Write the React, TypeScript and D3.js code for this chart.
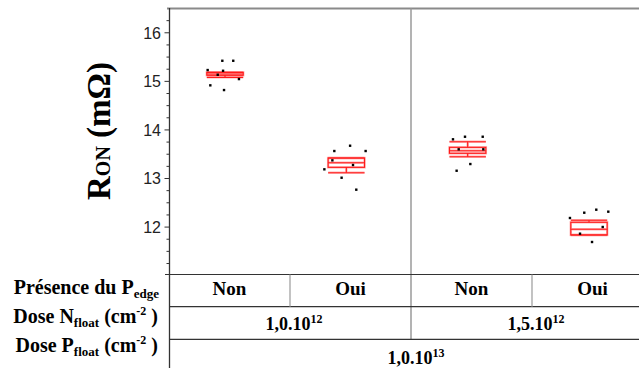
import React from 'react';
import * as d3 from 'd3';

// ---- data ----
const categories = ['Non', 'Oui', 'Non', 'Oui'];
const whiskerHigh = [15.185, 13.422, 13.757, 12.14];
const q3 = [15.185, 13.422, 13.642, 12.099];
const median = [15.15, 13.325, 13.572, 11.955];
const q1 = [15.125, 13.23, 13.519, 11.838];
const whiskerLow = [15.082, 13.119, 13.449, 11.838];

const pointValues = [
  [15.424, 15.424, 15.233, 15.218, 15.136, 15.047, 14.918, 14.821],
  [13.675, 13.566, 13.566, 13.374, 13.278, 13.189, 13.016, 12.77],
  [13.807, 13.86, 13.86, 13.601, 13.601, 13.298, 13.16],
  [12.296, 12.358, 12.317, 12.187, 12.002, 11.864, 11.693],
];
const pointJitter = [
  [-0.022, 0.068, -0.143, -0.016, -0.06, 0.115, -0.121, -0.008],
  [0.031, -0.099, 0.159, -0.115, 0.055, -0.181, -0.039, 0.082],
  [-0.121, -0.022, 0.124, -0.074, 0.129, 0.022, -0.091],
  [-0.039, 0.06, 0.159, -0.157, 0.113, -0.074, 0.025],
];

const yMajorTicks = [12, 13, 14, 15, 16];
const nFloatBases = ['1,0.10', '1,5.10'];
const nFloatExps = ['12', '12'];
const pFloatBase = '1,0.10';
const pFloatExp = '13';

const W = 639;
const H = 368;

export default function App() {
  const y = d3.scaleLinear().domain([11.03, 16.5]).range([274.2, 8.5]);
  const x = d3.scaleLinear().domain([1, 4]).range([225, 589]);
  const band = d3
    .scaleBand<string>()
    .domain(categories.map((_, i) => String(i)))
    .range([169, 653]);
  const boxHalf = 0.15;
  const minorTicks = d3
    .range(11.25, 16.5, 0.25)
    .filter((v) => Math.abs(v - Math.round(v)) > 1e-6);

  const serif = '"Liberation Serif", "Times New Roman", serif';
  const sans = '"Liberation Sans", Arial, sans-serif';
  const red = '#ff1a1a';
  const pink = '#ffb0b0';

  const axisX = 169.5;
  const row1 = 274.5;
  const row2 = 306.7;
  const row3 = 339.3;

  return (
    <svg
      width={W}
      height={H}
      style={{ position: 'absolute', left: 0, top: 0, background: '#fff' }}
    >
      <rect x={0} y={0} width={W} height={H} fill="#fff" />

      {/* frame */}
      <line x1={167} x2={W} y1={8.5} y2={8.5} stroke="#8a8a8a" strokeWidth={2} />
      <line x1={411} x2={411} y1={8.5} y2={row3} stroke="#9a9a9a" strokeWidth={1.5} />

      {/* table lines */}
      <line x1={165} x2={W} y1={row1} y2={row1} stroke="#333" strokeWidth={1.2} />
      <line x1={axisX} x2={W} y1={row2} y2={row2} stroke="#333" strokeWidth={1.2} />
      <line x1={axisX} x2={W} y1={row3} y2={row3} stroke="#333" strokeWidth={1.2} />
      {[1, 3].map((i) => (
        <line
          key={'div' + i}
          x1={band(String(i))!}
          x2={band(String(i))!}
          y1={row1}
          y2={row2}
          stroke="#9a9a9a"
          strokeWidth={1.2}
        />
      ))}

      {/* y axis */}
      <line x1={axisX} x2={axisX} y1={8} y2={H} stroke="#333" strokeWidth={1.3} />
      {minorTicks.map((t) => (
        <line
          key={'mi' + t}
          x1={axisX - 3}
          x2={axisX}
          y1={y(t)}
          y2={y(t)}
          stroke="#333"
          strokeWidth={1}
        />
      ))}
      {yMajorTicks.map((t) => (
        <g key={'ma' + t}>
          <line x1={axisX - 5} x2={axisX} y1={y(t)} y2={y(t)} stroke="#333" strokeWidth={1} />
          <text
            x={161}
            y={y(t)}
            dy="0.36em"
            textAnchor="end"
            fontFamily={sans}
            fontSize={16}
            fill="#222"
          >
            {t}
          </text>
        </g>
      ))}

      {/* y title */}
      <text
        transform={`translate(109.5,131) rotate(-90)`}
        textAnchor="middle"
        fontFamily={serif}
        fontWeight="bold"
        fill="#000"
      >
        <tspan fontSize={33}>R</tspan>
        <tspan fontSize={20}>ON</tspan>
        <tspan fontSize={33}> (mΩ)</tspan>
      </text>

      {/* boxes */}
      {categories.map((_, i) => {
        const cx = x(i + 1);
        const x0 = x(i + 1 - boxHalf);
        const x1 = x(i + 1 + boxHalf);
        const parts = (stroke: string, sw: number) => (
          <g stroke={stroke} strokeWidth={sw} fill="none">
            <rect x={x0} y={y(q3[i])} width={x1 - x0} height={y(q1[i]) - y(q3[i])} />
            <line x1={x0} x2={x1} y1={y(median[i])} y2={y(median[i])} />
            <line x1={cx} x2={cx} y1={y(whiskerHigh[i])} y2={y(q3[i])} />
            <line x1={cx} x2={cx} y1={y(q1[i])} y2={y(whiskerLow[i])} />
            <line x1={x0} x2={x1} y1={y(whiskerHigh[i])} y2={y(whiskerHigh[i])} />
            <line x1={x0} x2={x1} y1={y(whiskerLow[i])} y2={y(whiskerLow[i])} />
          </g>
        );
        return (
          <g key={'box' + i}>
            {parts(pink, 2.4)}
            {parts(red, 1.1)}
          </g>
        );
      })}

      {/* points */}
      {pointValues.map((vals, i) =>
        vals.map((v, j) => (
          <rect
            key={`p${i}-${j}`}
            x={x(i + 1 + pointJitter[i][j]) - 1.2}
            y={y(v) - 1.2}
            width={2.4}
            height={2.4}
            fill="#000"
          />
        ))
      )}

      {/* table text */}
      <g fontFamily={serif} fontWeight="bold" fill="#000">
        <text x={159} y={294} textAnchor="end" fontSize={20}>
          Présence du P
          <tspan fontSize={13} dy={4}>edge</tspan>
        </text>
        <text x={158} y={323} textAnchor="end" fontSize={20}>
          Dose N
          <tspan fontSize={13} dy={4}>float</tspan>
          <tspan dy={-4}> (cm</tspan>
          <tspan fontSize={12} dy={-8}>-2</tspan>
          <tspan dy={8}> )</tspan>
        </text>
        <text x={158} y={352} textAnchor="end" fontSize={20}>
          Dose P
          <tspan fontSize={13} dy={4}>float</tspan>
          <tspan dy={-4}> (cm</tspan>
          <tspan fontSize={12} dy={-8}>-2</tspan>
          <tspan dy={8}> )</tspan>
        </text>

        {categories.map((c, i) => (
          <text
            key={'cat' + i}
            x={band(String(i))! + band.bandwidth() / 2}
            y={295}
            textAnchor="middle"
            fontSize={19}
          >
            {c}
          </text>
        ))}

        {nFloatBases.map((b, k) => {
          const left = band(String(k * 2))!;
          const right = band(String(k * 2 + 1))! + band.bandwidth();
          return (
            <text
              key={'nf' + k}
              x={(left + right) / 2 + 4}
              y={330}
              textAnchor="middle"
              fontSize={18}
            >
              {b}
              <tspan fontSize={12} dy={-7}>
                {nFloatExps[k]}
              </tspan>
            </text>
          );
        })}

        <text
          x={(band('0')! + band('3')! + band.bandwidth()) / 2 + 5}
          y={364}
          textAnchor="middle"
          fontSize={18}
        >
          {pFloatBase}
          <tspan fontSize={12} dy={-7}>
            {pFloatExp}
          </tspan>
        </text>
      </g>
    </svg>
  );
}
